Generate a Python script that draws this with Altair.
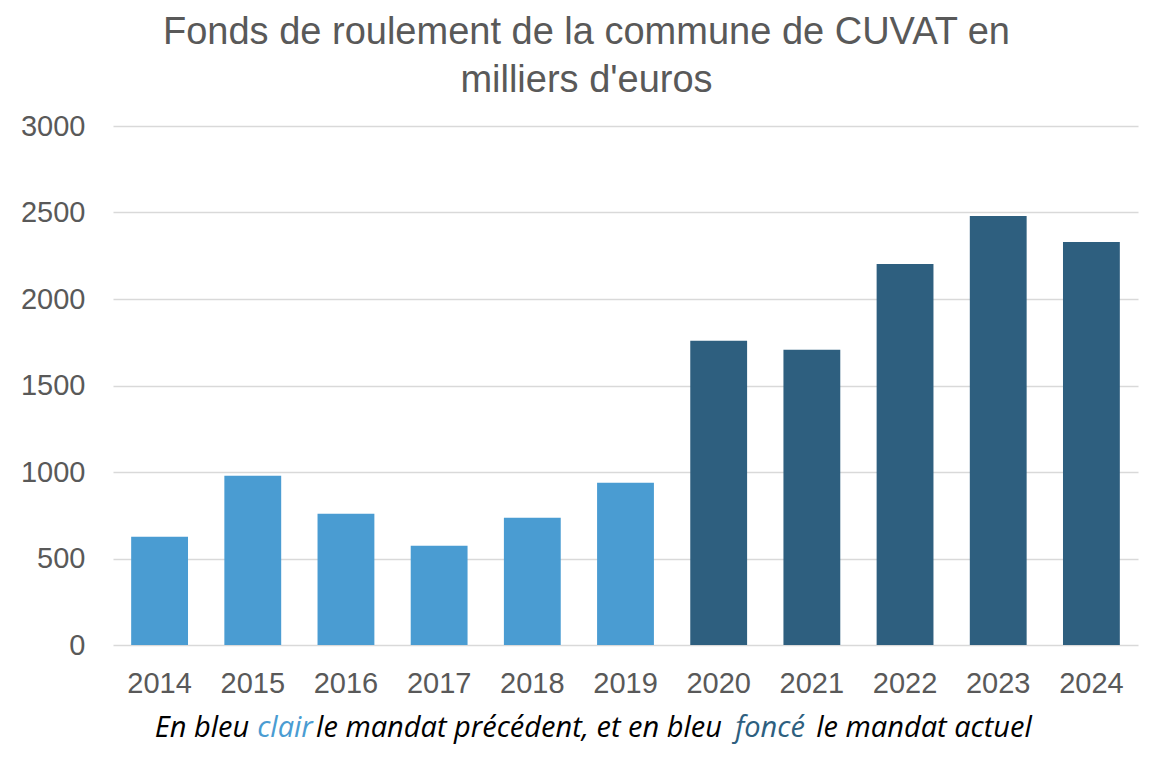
import altair as alt
import pandas as pd

years = ["2014", "2015", "2016", "2017", "2018", "2019", "2020", "2021", "2022", "2023", "2024"]
values = [626, 978, 758, 574, 736, 938, 1758, 1706, 2203, 2480, 2330]
mandats = ["précédent"] * 6 + ["actuel"] * 5
y_ticks = [0, 500, 1000, 1500, 2000, 2500, 3000]

caption_parts = ["En bleu", "clair", "le mandat précédent, et en bleu", "foncé", "le mandat actuel"]
caption_colors = ["#000000", "#4A9CD2", "#000000", "#2E5F7F", "#000000"]
caption_x = [89, 172, 406, 657, 811]

LIGHT = "#4A9CD2"
DARK = "#2E5F7F"
GREY = "#595959"
FONT = "Liberation Sans"

df = pd.DataFrame({"annee": years, "valeur": values, "mandat": mandats})

bars = alt.Chart(df).mark_bar().encode(
    x=alt.X("annee:N", sort=years, title=None,
            scale=alt.Scale(paddingInner=0.39, paddingOuter=0.195),
            axis=alt.Axis(labelAngle=0, labelFontSize=29, labelColor=GREY, labelFont=FONT,
                          domain=False, ticks=False, labelPadding=24, grid=False)),
    y=alt.Y("valeur:Q", title=None,
            scale=alt.Scale(domain=[0, 3000], nice=False),
            axis=alt.Axis(values=y_ticks, format="d", labelFontSize=29, labelColor=GREY,
                          labelFont=FONT, domain=False, ticks=False, labelPadding=28,
                          gridColor="#D9D9D9", gridWidth=1.5)),
    color=alt.Color("mandat:N", scale=alt.Scale(domain=["précédent", "actuel"], range=[LIGHT, DARK]),
                    legend=None),
)

cap_df = pd.DataFrame({"t": caption_parts, "c": caption_colors, "x": caption_x})
caption = alt.Chart(cap_df).mark_text(
    align="center", baseline="middle", fontStyle="italic", fontSize=29, font="Open Sans"
).encode(
    text="t:N",
    x=alt.X("x:Q", scale=None),
    y=alt.value(85 + 517),
    color=alt.Color("c:N", scale=None),
)

chart = alt.layer(bars, caption).properties(
    width=1025, height=519,
    title=alt.TitleParams(
        text=["Fonds de roulement de la commune de CUVAT en", "milliers d'euros"],
        fontSize=38, font=FONT, color=GREY, fontWeight="normal",
        anchor="middle", dx=-39, offset=12, lineHeight=48,
    ),
    autosize=alt.AutoSizeParams(type="none"),
    padding={"left": 105, "top": 118, "right": 22, "bottom": 119},
).configure_view(stroke=None)

chart.save("out.html", embed_options={"renderer": "svg", "actions": False})
